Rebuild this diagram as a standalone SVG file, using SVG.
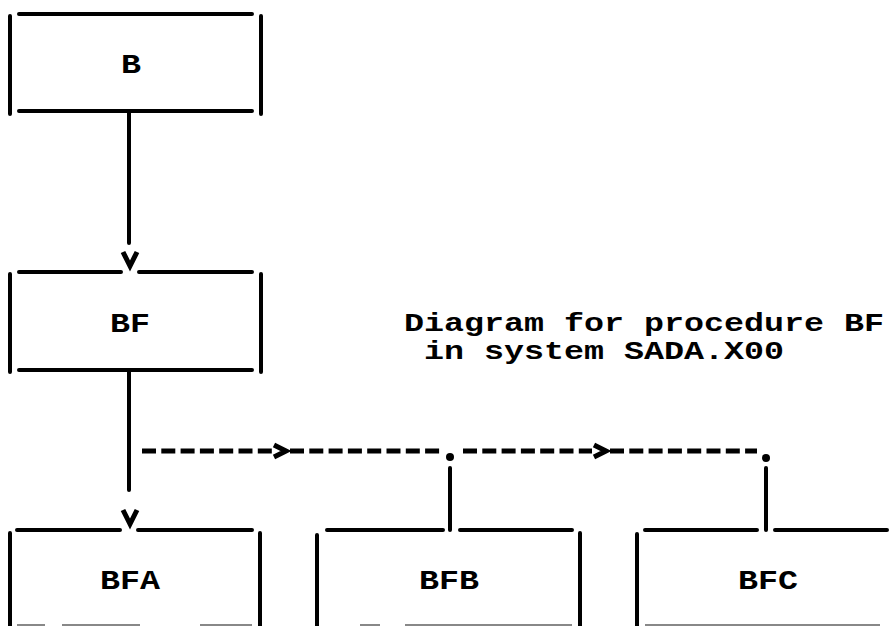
<svg xmlns="http://www.w3.org/2000/svg" width="893" height="626" viewBox="0 0 893 626">
<style>
.ln{stroke:#000;stroke-width:4;fill:none;stroke-linecap:round}
.ds{stroke:#000;stroke-width:5;fill:none;stroke-dasharray:14 5.3}
.ch{stroke:#000;stroke-width:5;fill:none;stroke-linejoin:miter}
.lb{font-family:"Liberation Mono","Courier New",monospace;font-weight:bold;font-size:27px;fill:#000}
.tt{font-family:"Liberation Mono","Courier New",monospace;font-weight:bold;font-size:26px;fill:#000}
.gr{stroke:#888;stroke-width:2;fill:none}
</style>
<rect width="893" height="626" fill="#fff"/>
<g id="node-B">
<path class="ln" d="M19 14H252M19 111H252M10 16V114M261 16V114"/>
<text class="lb" x="121" y="73" textLength="20" lengthAdjust="spacingAndGlyphs">B</text>
</g>
<g id="node-BF">
<path class="ln" d="M19 272H121M139 272H252M19 370H252M10 274V372M261 274V372"/>
<text class="lb" x="110" y="332" textLength="40" lengthAdjust="spacingAndGlyphs">BF</text>
</g>
<g id="node-BFA">
<path class="ln" d="M17 530H120M138 530H252M10 533V626M260 533V626"/>
<path class="gr" d="M17 625H45M62 625H140M200 625H252"/>
<text class="lb" x="100" y="589" textLength="60" lengthAdjust="spacingAndGlyphs">BFA</text>
</g>
<g id="node-BFB">
<path class="ln" d="M327 530H443M460 530H572M317 535V626M580 533V626"/>
<path class="gr" d="M360 625H380M405 625H572"/>
<text class="lb" x="419" y="589" textLength="60" lengthAdjust="spacingAndGlyphs">BFB</text>
</g>
<g id="node-BFC">
<path class="ln" d="M645 530H757M775 530H887M637 534V626"/>
<path class="gr" d="M645 625H880"/>
<text class="lb" x="738" y="589" textLength="60" lengthAdjust="spacingAndGlyphs">BFC</text>
</g>
<g id="title">
<text class="tt" x="404" y="331" textLength="480" lengthAdjust="spacingAndGlyphs">Diagram for procedure BF</text>
<text class="tt" x="424" y="359" textLength="360" lengthAdjust="spacingAndGlyphs">in system SADA.X00</text>
</g>
<g id="connectors">
<path class="ln" d="M129 113V243"/>
<path class="ch" d="M123 252L130 266L137 252"/>
<path class="ln" d="M129 372V490"/>
<path class="ch" d="M123 510L130 524L137 510"/>
<path class="ds" d="M142 451H272"/>
<path class="ch" d="M274 445L286 451L274 457"/>
<path class="ds" d="M290 451H440"/>
<circle cx="450" cy="457" r="4"/>
<path class="ds" d="M463 451H592"/>
<path class="ch" d="M594 445L606 451L594 457"/>
<path class="ds" d="M610 451H757"/>
<circle cx="766" cy="458" r="4"/>
<path class="ln" d="M450 468V530"/>
<path class="ln" d="M766 468V530"/>
</g>
</svg>
